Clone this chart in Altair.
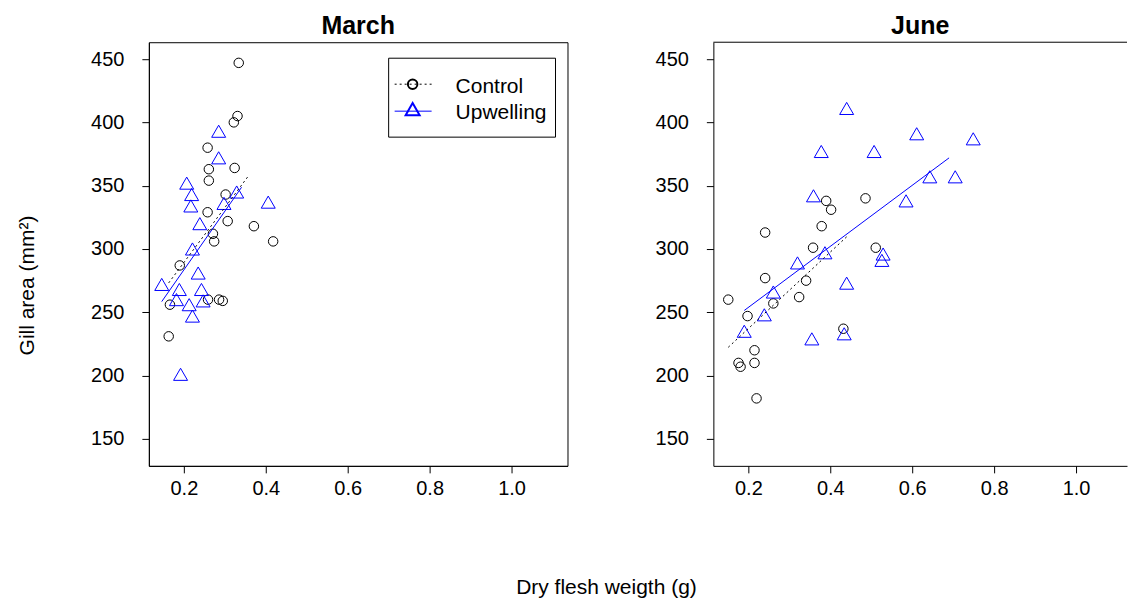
import altair as alt
import pandas as pd

# ---- measurements: dry flesh weight (g) and gill area (mm^2) ----
march_ctrl_weight = [0.334, 0.331, 0.322, 0.258, 0.324, 0.261, 0.261, 0.302, 0.258, 0.307,
                     0.371, 0.271, 0.274, 0.418, 0.190, 0.166, 0.259, 0.286, 0.295, 0.163]
march_ctrl_area = [447, 405, 400, 380, 364, 363, 354, 343, 329, 322,
                   318, 312, 306, 306, 287, 256, 260, 260, 259, 231]

march_up_weight = [0.285, 0.285, 0.207, 0.219, 0.217, 0.406, 0.329, 0.298, 0.239, 0.221,
                   0.235, 0.146, 0.189, 0.243, 0.182, 0.213, 0.247, 0.221, 0.192]
march_up_area = [393, 372, 352, 343, 334, 337, 345, 336, 320, 300,
                 281, 272, 268, 268, 260, 256, 259, 247, 201]

june_ctrl_weight = [0.390, 0.402, 0.486, 0.379, 0.241, 0.358, 0.511, 0.241, 0.341, 0.151,
                    0.324, 0.261, 0.198, 0.432, 0.215, 0.176, 0.181, 0.215, 0.220]
june_ctrl_area = [338, 331, 340, 318, 313, 301, 301, 277, 275, 260,
                  262, 257, 247, 237, 220, 210, 207, 210, 182]

june_up_weight = [0.440, 0.378, 0.507, 0.611, 0.749, 0.359, 0.643, 0.705, 0.585, 0.387,
                  0.529, 0.526, 0.320, 0.261, 0.239, 0.190, 0.440, 0.355, 0.434]
june_up_area = [411, 377, 377, 391, 387, 342, 357, 357, 338, 297,
                296, 291, 289, 266, 248, 235, 273, 229, 233]

# x range over which each fitted line is drawn
fit_extent = {
    ("March", "Control"): [0.163, 0.359],
    ("March", "Upwelling"): [0.146, 0.341],
    ("June", "Control"): [0.151, 0.440],
    ("June", "Upwelling"): [0.190, 0.690],
}

x_ticks = [0.2, 0.4, 0.6, 0.8, 1.0]
y_ticks = [150, 200, 250, 300, 350, 400, 450]
legend_labels = ["Control", "Upwelling"]

rows = []
for month, group, ws, areas in [
    ("March", "Control", march_ctrl_weight, march_ctrl_area),
    ("March", "Upwelling", march_up_weight, march_up_area),
    ("June", "Control", june_ctrl_weight, june_ctrl_area),
    ("June", "Upwelling", june_up_weight, june_up_area),
]:
    for w, a in zip(ws, areas):
        rows.append({"month": month, "group": group, "weight": w, "area": a})
df = pd.DataFrame(rows)

FONT = "Liberation Sans"
BLUE = "#0000ff"
PANEL_H = 424
X_LO = 0.1146
Y_DOMAIN = [128.7, 463.3]
DOTS = [2, 3]


def x_enc(x_hi):
    return alt.X(
        "weight:Q",
        scale=alt.Scale(domain=[X_LO, x_hi], nice=False, zero=False),
        axis=alt.Axis(values=x_ticks, format=".1f", title=None, grid=False,
                      tickSize=7, labelPadding=6, labelFontSize=20,
                      labelColor="black", tickColor="black", domainColor="black",
                      labelFont=FONT, labelFlush=False),
    )


def y_enc(with_title):
    if with_title:
        extra = dict(title="Gill area (mm²)", titleX=-121, titleY=243, titleAngle=270,
                     titleAlign="center", titleBaseline="middle", titleFontSize=21,
                     titleFontWeight="normal", titleFont=FONT, titleColor="black")
    else:
        extra = dict(title=None)
    return alt.Y(
        "area:Q",
        scale=alt.Scale(domain=Y_DOMAIN, nice=False, zero=False),
        axis=alt.Axis(values=y_ticks, format="d", grid=False, tickSize=7,
                      labelPadding=18, labelFontSize=20, labelColor="black",
                      tickColor="black", domainColor="black", labelFont=FONT,
                      labelFlush=False, **extra),
    )


def panel(month, x_hi, with_title):
    base = alt.Chart(df).transform_filter(alt.datum.month == month)
    ctrl = base.transform_filter(alt.datum.group == "Control")
    up = base.transform_filter(alt.datum.group == "Upwelling")

    ctrl_pts = ctrl.mark_point(shape="circle", size=90, filled=False, color="black",
                               strokeWidth=1, opacity=1).encode(
        x=x_enc(x_hi), y=y_enc(with_title))
    up_pts = up.mark_point(shape="triangle-up", size=196, filled=False, color=BLUE,
                           strokeWidth=1, opacity=1).encode(x="weight:Q", y="area:Q")

    ctrl_fit = ctrl.transform_regression(
        "weight", "area", extent=fit_extent[(month, "Control")]
    ).mark_line(color="black", strokeDash=DOTS, strokeWidth=1).encode(
        x="weight:Q", y="area:Q")
    up_fit = up.transform_regression(
        "weight", "area", extent=fit_extent[(month, "Upwelling")]
    ).mark_line(color=BLUE, strokeWidth=1).encode(x="weight:Q", y="area:Q")

    return [ctrl_pts, up_pts, ctrl_fit, up_fit]


def title(text):
    return alt.TitleParams(text, fontSize=25, fontWeight="bold", font=FONT,
                           color="black", anchor="middle", offset=3)


# ---- legend drawn inside the March panel ----
one = pd.DataFrame({"k": [0]})
leg_box = alt.Chart(one).mark_rect(
    fill="white", stroke="black", strokeWidth=1).encode(
    x=alt.value(240), x2=alt.value(407), y=alt.value(16), y2=alt.value(95))
leg_ctrl_line = alt.Chart(one).mark_rule(
    color="black", strokeDash=DOTS, strokeWidth=1).encode(
    x=alt.value(246), x2=alt.value(283), y=alt.value(42))
leg_up_line = alt.Chart(one).mark_rule(color=BLUE, strokeWidth=1).encode(
    x=alt.value(246), x2=alt.value(283), y=alt.value(69))
leg_ctrl_sym = alt.Chart(one).mark_point(
    shape="circle", size=90, filled=False, color="black", opacity=1).encode(
    x=alt.value(264), y=alt.value(42))
leg_up_sym = alt.Chart(one).mark_point(
    shape="triangle-up", size=196, filled=False, color=BLUE, opacity=1).encode(
    x=alt.value(264), y=alt.value(67))
leg_texts = [
    alt.Chart(one).mark_text(align="left", baseline="middle", fontSize=21, font=FONT,
                             color="black", text=lab).encode(
        x=alt.value(307), y=alt.value(yy))
    for lab, yy in zip(legend_labels, [45, 71])
]

march = alt.layer(
    *panel("March", 1.1366, True),
    leg_box, leg_ctrl_line, leg_up_line, leg_ctrl_sym, leg_up_sym, *leg_texts,
).properties(width=419, height=PANEL_H, title=title("March"),
             view=alt.ViewBackground(stroke="black", strokeWidth=1))

june_top = alt.Chart(one).mark_rule(color="black", strokeWidth=1).encode(
    x=alt.value(0), x2=alt.value(414), y=alt.value(0))
june = alt.layer(*panel("June", 1.1244, False), june_top).properties(
    width=414, height=PANEL_H, title=title("June"),
    view=alt.ViewBackground(stroke="transparent"))

chart = alt.hconcat(march, june, spacing=146, bounds="flush").properties(
    title=alt.TitleParams("Dry flesh weigth (g)", orient="bottom", anchor="middle",
                          fontSize=21, fontWeight="normal", font=FONT, color="black",
                          offset=78, dx=458, frame="group"),
    padding={"left": 16, "top": 13, "right": 0, "bottom": 0},
).configure(background="white")

chart.save("out.html", embed_options={"renderer": "svg", "actions": False})
